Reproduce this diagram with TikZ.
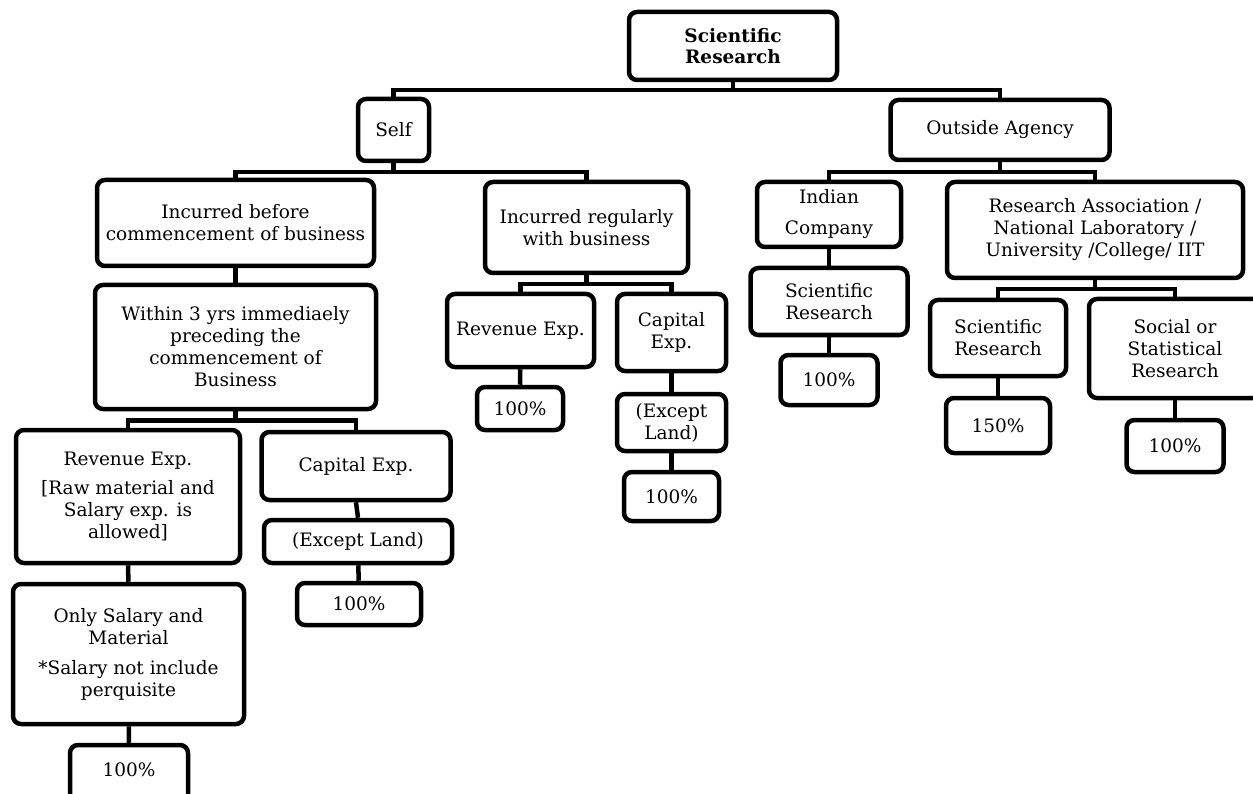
\documentclass[tikz,border=0pt]{standalone}
\usepackage{fontspec}
\setmainfont{DejaVu Serif}
\begin{document}
\begin{tikzpicture}[x=1pt,y=-1pt,
  box/.style={draw=black, line width=4.5pt, rounded corners=8pt, fill=white,
    align=center, inner sep=0pt, font=\fontsize{18.5}{22}\selectfont},
  link/.style={draw=black, line width=4.5pt}]
\useasboundingbox (0,0) rectangle (1253,794);
% top
\node[box, minimum width=208pt, minimum height=68pt, font=\fontsize{18.5}{21}\selectfont\bfseries] (root) at (733,46) {Scientific\\Research};
\node[box, minimum width=71pt, minimum height=62pt] (self) at (393.5,130) {Self};
\node[box, minimum width=219pt, minimum height=60pt] (agency) at (1000,130) {Outside Agency};
% self
\node[box, minimum width=277pt, minimum height=86pt] (before) at (235.5,223) {Incurred before\\commencement of business};
\node[box, minimum width=281pt, minimum height=124pt] (within) at (235.5,347) {Within 3 yrs immediaely\\preceding the\\commencement of\\Business};
\node[box, minimum width=224pt, minimum height=133pt] (brev) at (128,496.5) {Revenue Exp.\\[7pt][Raw material and\\Salary exp. is\\allowed]};
\node[box, minimum width=231pt, minimum height=140pt] (only) at (128.5,654) {Only Salary and\\Material\\[8pt]*Salary not include\\perquisite};
\node[box, minimum width=118pt, minimum height=64pt, text depth=14pt] (onlyp) at (129,777) {100\%};
\node[box, minimum width=189pt, minimum height=68pt] (bcap) at (356,466) {Capital Exp.};
\node[box, minimum width=188pt, minimum height=43pt] (bcapx) at (358,541.5) {(Except Land)};
\node[box, minimum width=124pt, minimum height=42pt] (bcapp) at (359,604) {100\%};
\node[box, minimum width=203pt, minimum height=91pt] (regular) at (586.5,227.5) {Incurred regularly\\with business};
\node[box, minimum width=147pt, minimum height=73pt] (rrev) at (520.5,330.5) {Revenue Exp.};
\node[box, minimum width=86pt, minimum height=43pt] (rrevp) at (520,408.5) {100\%};
\node[box, minimum width=109pt, minimum height=77pt] (rcap) at (671.5,332.5) {Capital\\Exp.};
\node[box, minimum width=109pt, minimum height=57pt] (rcapx) at (671.5,422.5) {(Except\\Land)};
\node[box, minimum width=95pt, minimum height=49pt] (rcapp) at (671.5,496.5) {100\%};
% outside agency
\node[box, minimum width=144pt, minimum height=65pt] (indian) at (829,214.5) {Indian\\[9pt]Company};
\node[box, minimum width=157pt, minimum height=67pt] (indsr) at (829,301.5) {Scientific\\Research};
\node[box, minimum width=97pt, minimum height=50pt] (indp) at (829,380) {100\%};
\node[box, minimum width=296pt, minimum height=96pt] (assoc) at (1095,230) {Research Association /\\National Laboratory /\\University /College/ IIT};
\node[box, minimum width=136pt, minimum height=76pt] (asr) at (998,338) {Scientific\\Research};
\node[box, minimum width=104pt, minimum height=55pt] (asrp) at (998,425.5) {150\%};
\node[box, minimum width=172pt, minimum height=99pt] (social) at (1175,348.5) {Social or\\Statistical\\Research};
\node[box, minimum width=97pt, minimum height=52pt] (socialp) at (1175,446) {100\%};
% connectors
\draw[link] (root.south) -- ++(0,8) -| (self.north);
\draw[link] (root.south) -- ++(0,8) -| (agency.north);
\draw[link] (self.south) -- ++(0,9) -| (before.north);
\draw[link] (self.south) -- ++(0,9) -| (regular.north);
\draw[link] (before) -- (within);
\draw[link] (within.south) -- ++(0,9) -| (brev.north);
\draw[link] (within.south) -- ++(0,9) -| (bcap.north);
\draw[link] (brev) -- (only);
\draw[link] (only) -- (onlyp);
\draw[link] (bcap.south) -- (bcapx.north);
\draw[link] (bcapx) -- (bcapp);
\draw[link] (regular.south) -- ++(0,9) -| (rrev.north);
\draw[link] (regular.south) -- ++(0,9) -| (rcap.north);
\draw[link] (rrev) -- (rrevp);
\draw[link] (rcap) -- (rcapx);
\draw[link] (rcapx) -- (rcapp);
\draw[link] (agency.south) -- ++(0,10) -| (indian.north);
\draw[link] (agency.south) -- ++(0,10) -| (assoc.north);
\draw[link] (indian) -- (indsr);
\draw[link] (indsr) -- (indp);
\draw[link] (assoc.south) -- ++(0,9) -| (asr.north);
\draw[link] (assoc.south) -- ++(0,9) -| (social.north);
\draw[link] (asr) -- (asrp);
\draw[link] (social) -- (socialp);
\end{tikzpicture}
\end{document}
